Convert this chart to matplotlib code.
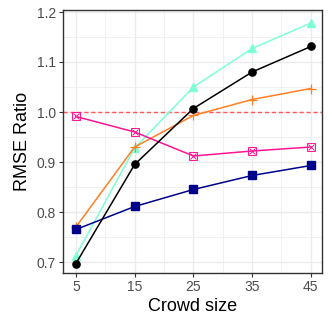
import matplotlib
matplotlib.use("Agg")
import matplotlib.pyplot as plt

plt.rcParams['font.family'] = ['Liberation Sans', 'DejaVu Sans']

crowd = [5, 15, 25, 35, 45]
cyan_vals = [0.713, 0.928, 1.050, 1.127, 1.178]
black_vals = [0.697, 0.895, 1.007, 1.080, 1.131]
orange_vals = [0.770, 0.930, 0.993, 1.025, 1.047]
pink_vals = [0.991, 0.960, 0.912, 0.922, 0.930]
blue_vals = [0.765, 0.811, 0.845, 0.873, 0.893]
ref_line = 1.0

fig = plt.figure(figsize=(3.32, 3.32), dpi=100)
ax = fig.add_axes([63/332, 1-273/332, (322-63)/332, (273-10)/332])

ax.axhline(ref_line, color='#FF5A5A', ls=(0, (3, 2)), lw=1.0, zorder=1)

ax.plot(crowd, cyan_vals, color='#7FFFD4', lw=1.1, marker='^', ms=6, zorder=3)
ax.plot(crowd, black_vals, color='black', lw=1.1, marker='o', ms=5.2, zorder=4)
ax.plot(crowd, orange_vals, color='#FF7F24', lw=1.1, marker='+', ms=7, mew=0.9, zorder=3)
ax.plot(crowd, pink_vals, color='#FF1493', lw=1.1, marker='s', ms=5.2, mfc='none', mew=0.7, zorder=3)
ax.plot(crowd, pink_vals, color='#FF1493', lw=0, marker='x', ms=4.2, mew=0.7, zorder=3)
ax.plot(crowd, blue_vals, color='#00008B', lw=1.1, marker='s', ms=5.2, zorder=3)

ax.set_xlim(2.8, 46.9)
ax.set_ylim(0.678, 1.204)
ax.set_xticks(crowd)
ax.set_yticks([0.7, 0.8, 0.9, 1.0, 1.1, 1.2])
ax.set_yticklabels(['0.7', '0.8', '0.9', '1.0', '1.1', '1.2'])
ax.set_xticks([10, 20, 30, 40], minor=True)
ax.set_yticks([0.75, 0.85, 0.95, 1.05, 1.15], minor=True)
ax.grid(which='major', color='#EBEBEB', lw=1.0, zorder=0)
ax.grid(which='minor', color='#EBEBEB', lw=0.5, zorder=0)
ax.set_axisbelow(True)
ax.tick_params(which='major', length=3, width=0.8, color='#333333', labelsize=10, labelcolor='#4D4D4D', pad=2)
ax.tick_params(which='minor', length=0)
for s in ax.spines.values():
    s.set_color('#333333')
    s.set_linewidth(1.0)

ax.set_xlabel('Crowd size', fontsize=13, labelpad=3)
ax.set_ylabel('RMSE Ratio', fontsize=13, labelpad=4)

fig.savefig('out.png', dpi=100)
